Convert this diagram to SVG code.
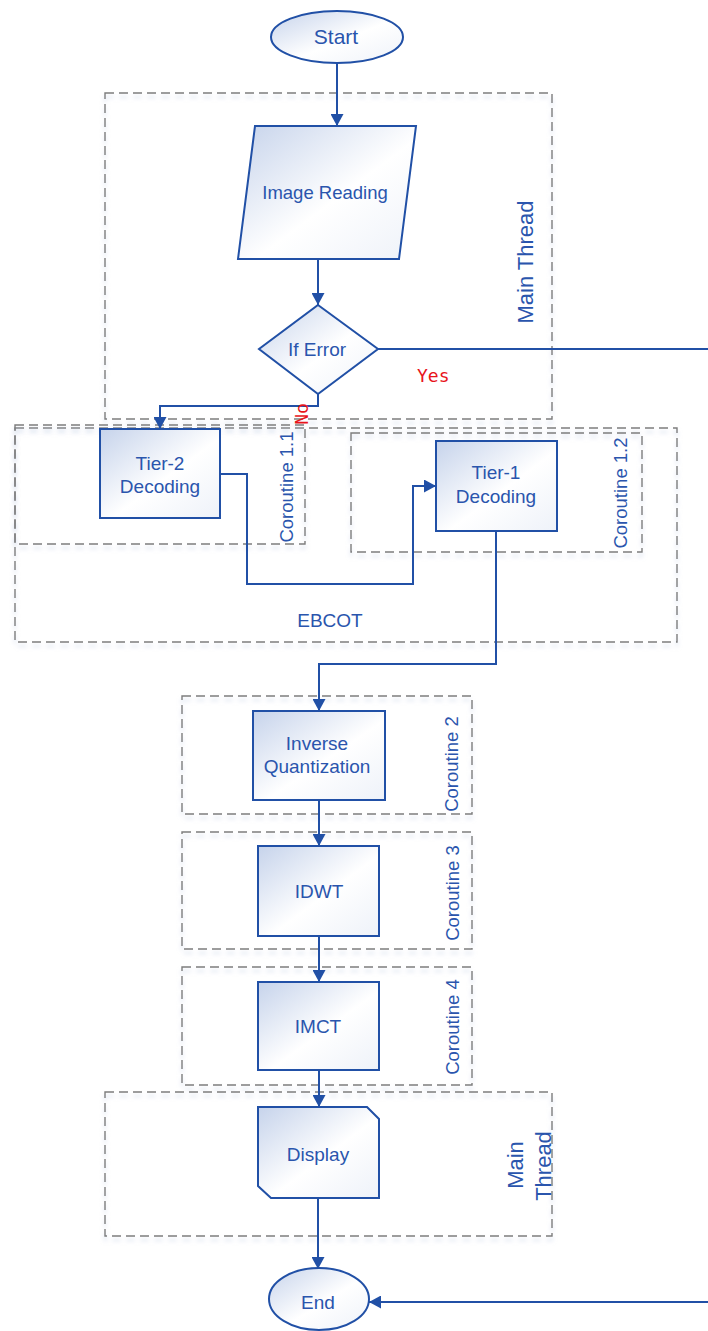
<svg xmlns="http://www.w3.org/2000/svg" width="708" height="1331" viewBox="0 0 708 1331">
<style>
.grp{fill:none;stroke:#7d7d7d;stroke-width:1.4;stroke-dasharray:9 5;filter:url(#sh)}
.node{fill:url(#g);stroke:#2150a6;stroke-width:2}
.lbl{font-family:"Liberation Sans",Arial,sans-serif;font-size:19px;fill:#2a55ad;text-anchor:middle}
.glbl{font-family:"Liberation Sans",Arial,sans-serif;font-size:18.5px;fill:#2a55ad;text-anchor:middle}
.mlbl{font-family:"Liberation Sans",Arial,sans-serif;font-size:22px;fill:#2a55ad;text-anchor:middle}
.red{font-family:"DejaVu Sans Mono",monospace;font-size:18px;fill:#e8141b}
.con{fill:none;stroke:#2150a6;stroke-width:2}
.arr{marker-end:url(#ah)}
</style>
<defs>
<linearGradient id="g" x1="0" y1="0" x2="1" y2="1">
<stop offset="0" stop-color="#c6d3eb"/>
<stop offset="0.55" stop-color="#ffffff"/>
<stop offset="1" stop-color="#eef2f9"/>
</linearGradient>
<filter id="sh" x="-5%" y="-5%" width="110%" height="115%">
<feDropShadow dx="0" dy="4" stdDeviation="2" flood-color="#b8c6e0" flood-opacity="0.6"/>
</filter>
<marker id="ah" markerUnits="userSpaceOnUse" viewBox="0 0 12 13" refX="12" refY="6.5" markerWidth="12" markerHeight="13" orient="auto">
<path d="M0,0 L12,6.5 L0,13 Z" fill="#2150a6"/>
</marker>
</defs>

<g id="groups">
<rect id="g-main1" class="grp" x="105" y="93" width="447" height="326"/>
<rect id="g-ebcot" class="grp" x="15" y="428" width="662" height="214"/>
<rect id="g-co11" class="grp" x="15" y="425" width="290" height="119"/>
<rect id="g-co12" class="grp" x="351" y="433" width="291" height="119"/>
<rect id="g-co2" class="grp" x="182" y="696" width="290" height="118"/>
<rect id="g-co3" class="grp" x="182" y="832" width="290" height="117"/>
<rect id="g-co4" class="grp" x="182" y="967" width="290" height="118"/>
<rect id="g-main2" class="grp" x="105" y="1092" width="447" height="144"/>
<text class="mlbl" transform="translate(533,262) rotate(-90)">Main Thread</text>
<text class="glbl" transform="translate(293,487) rotate(-90)">Coroutine 1.1</text>
<text class="glbl" transform="translate(627,493) rotate(-90)">Coroutine 1.2</text>
<text class="lbl" x="330" y="627">EBCOT</text>
<text class="glbl" transform="translate(458,764) rotate(-90)">Coroutine 2</text>
<text class="glbl" transform="translate(459,893) rotate(-90)">Coroutine 3</text>
<text class="glbl" transform="translate(459,1027) rotate(-90)">Coroutine 4</text>
<text class="mlbl" transform="translate(523,1165) rotate(-90)">Main</text>
<text class="mlbl" transform="translate(551,1166) rotate(-90)">Thread</text>
</g>

<g id="connectors">
<path class="con arr" d="M337,63 V126"/>
<path class="con arr" d="M318,259 V305"/>
<path class="con arr" d="M378,349 H709 V1302 H369"/>
<path class="con arr" d="M318,394 V406 H160 V429"/>
<path class="con arr" d="M220,474 H247 V584 H413 V486 H436"/>
<path class="con arr" d="M496,531 V664 H319 V711"/>
<path class="con arr" d="M319,800 V846"/>
<path class="con arr" d="M319,936 V982"/>
<path class="con arr" d="M319,1070 V1107"/>
<path class="con arr" d="M318,1198 V1269"/>
<text class="red" x="417" y="382">Yes</text>
<text class="red" transform="translate(308,414) rotate(-90)" text-anchor="middle">No</text>
</g>

<g id="n-start">
<ellipse class="node" cx="337" cy="37" rx="66" ry="26"/>
<text class="lbl" x="336" y="44" style="font-size:21px">Start</text>
</g>
<g id="n-read">
<path class="node" d="M255,126 H416 L399,259 H238 Z"/>
<text class="lbl" x="325" y="199" style="font-size:18.5px">Image Reading</text>
</g>
<g id="n-err">
<path class="node" d="M318,305 L378,349 L318,394 L259,349 Z"/>
<text class="lbl" x="317" y="356">If Error</text>
</g>
<g id="n-tier2">
<rect class="node" x="100" y="429" width="120" height="89"/>
<text class="lbl" x="160" y="470">Tier-2</text>
<text class="lbl" x="160" y="493">Decoding</text>
</g>
<g id="n-tier1">
<rect class="node" x="436" y="441" width="121" height="90"/>
<text class="lbl" x="496" y="479">Tier-1</text>
<text class="lbl" x="496" y="503">Decoding</text>
</g>
<g id="n-iq">
<rect class="node" x="253" y="711" width="132" height="89"/>
<text class="lbl" x="317" y="750">Inverse</text>
<text class="lbl" x="317" y="773">Quantization</text>
</g>
<g id="n-idwt">
<rect class="node" x="258" y="846" width="121" height="90"/>
<text class="lbl" x="319" y="898">IDWT</text>
</g>
<g id="n-imct">
<rect class="node" x="258" y="982" width="121" height="88"/>
<text class="lbl" x="318" y="1033">IMCT</text>
</g>
<g id="n-display">
<path class="node" d="M258,1107 H367 L379,1119 V1198 H271 L258,1186 Z"/>
<text class="lbl" x="318" y="1161">Display</text>
</g>
<g id="n-end">
<ellipse class="node" cx="319" cy="1299" rx="50" ry="31"/>
<text class="lbl" x="318" y="1309">End</text>
</g>
</svg>
